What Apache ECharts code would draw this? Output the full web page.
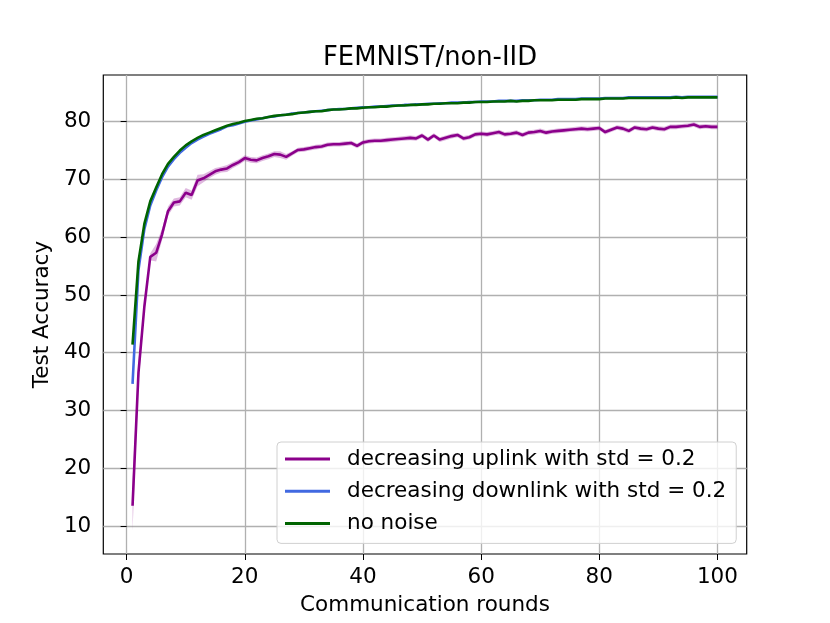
<!DOCTYPE html>
<html>
<head>
<meta charset="utf-8">
<script src="https://cdn.jsdelivr.net/npm/echarts@6/dist/echarts.min.js"></script>
<style>html,body{margin:0;padding:0;background:#fff}#c{width:830px;height:623px}</style>
</head>
<body>
<div id="c"></div>
<script>
const rounds = [1,2,3,4,5,6,7,8,9,10,11,12,13,14,15,16,17,18,19,20,21,22,23,24,25,26,27,28,29,30,31,32,33,34,35,36,37,38,39,40,41,42,43,44,45,46,47,48,49,50,51,52,53,54,55,56,57,58,59,60,61,62,63,64,65,66,67,68,69,70,71,72,73,74,75,76,77,78,79,80,81,82,83,84,85,86,87,88,89,90,91,92,93,94,95,96,97,98,99,100];
const xTicks = [0,20,40,60,80,100];
const yTicks = [10,20,30,40,50,60,70,80];
const seriesNames = ['decreasing uplink with std = 0.2','decreasing downlink with std = 0.2','no noise'];

const uplink = [13.5,36.5,48.0,56.6,57.3,60.5,64.5,66.0,66.2,67.7,67.3,69.8,70.2,70.8,71.4,71.7,71.9,72.5,73.0,73.7,
73.4,73.3,73.7,74.0,74.4,74.3,73.9,74.5,75.1,75.2,75.4,75.6,75.7,76.0,76.1,76.1,76.2,76.3,75.8,76.4,
76.6,76.7,76.7,76.8,76.9,77.0,77.1,77.2,77.1,77.6,76.9,77.6,76.9,77.2,77.5,77.7,77.1,77.3,77.8,77.9,
77.8,78.0,78.2,77.8,77.9,78.1,77.7,78.1,78.2,78.4,78.1,78.3,78.4,78.5,78.6,78.7,78.8,78.7,78.8,78.9,
78.2,78.6,79.0,78.8,78.4,79.0,78.8,78.7,79.0,78.8,78.7,79.1,79.1,79.2,79.3,79.5,79.1,79.2,79.1,79.1];
const uplinkSpread = [4.4,2.2,0.8,0.6,1.5,1.0,0.8,0.7,0.7,0.8,0.8,1.0,0.7,0.6,0.6,0.5,0.6,0.5,0.5,0.5,
0.5,0.5,0.5,0.5,0.5,0.6,0.5,0.4,0.4,0.4,0.4,0.4,0.4,0.4,0.4,0.4,0.4,0.4,0.4,0.4,
0.4,0.4,0.4,0.4,0.4,0.4,0.4,0.4,0.4,0.4,0.4,0.4,0.4,0.4,0.4,0.4,0.4,0.4,0.4,0.4,
0.4,0.4,0.4,0.4,0.4,0.4,0.4,0.4,0.4,0.4,0.4,0.4,0.4,0.4,0.4,0.4,0.4,0.4,0.4,0.4,
0.4,0.4,0.4,0.4,0.4,0.4,0.4,0.4,0.4,0.4,0.4,0.4,0.4,0.4,0.4,0.4,0.4,0.4,0.4,0.4];
const downlink = [34.6,54.3,61.4,65.5,68.1,70.4,72.2,73.5,74.6,75.5,76.3,76.9,77.4,77.9,78.3,78.7,79.2,79.4,79.7,80.0,
80.2,80.4,80.6,80.8,80.9,81.1,81.2,81.4,81.5,81.6,81.7,81.8,81.9,82.0,82.1,82.2,82.2,82.3,82.4,82.5,
82.5,82.6,82.6,82.7,82.8,82.8,82.9,82.9,83.0,83.0,83.1,83.1,83.2,83.2,83.3,83.3,83.3,83.4,83.4,83.5,
83.5,83.5,83.6,83.6,83.6,83.6,83.7,83.7,83.7,83.8,83.8,83.8,83.9,83.9,83.9,83.9,84.0,84.0,84.0,84.0,
84.1,84.1,84.1,84.1,84.2,84.2,84.2,84.2,84.2,84.2,84.2,84.2,84.3,84.2,84.3,84.3,84.3,84.3,84.3,84.3];
const noNoise = [41.4,55.8,62.3,66.2,68.6,70.9,72.7,73.9,75.0,75.9,76.6,77.2,77.7,78.1,78.5,78.9,79.3,79.6,79.8,80.1,
80.3,80.5,80.6,80.8,81.0,81.1,81.2,81.3,81.5,81.6,81.7,81.8,81.8,82.0,82.1,82.1,82.2,82.3,82.3,82.4,
82.5,82.5,82.6,82.6,82.7,82.8,82.8,82.9,82.9,83.0,83.0,83.1,83.1,83.2,83.2,83.2,83.3,83.3,83.4,83.4,
83.4,83.5,83.5,83.5,83.6,83.5,83.6,83.6,83.7,83.7,83.7,83.7,83.8,83.8,83.8,83.8,83.9,83.9,83.9,83.9,
84.0,84.0,84.0,84.0,84.1,84.1,84.1,84.1,84.1,84.1,84.1,84.1,84.2,84.1,84.2,84.2,84.2,84.2,84.2,84.2];

const FONT = 'DejaVu Sans';
const FS = 21.5;
const chart = echarts.init(document.getElementById('c'), null, {renderer: 'canvas'});
const pairs = arr => rounds.map((r, i) => [r, arr[i]]);

chart.setOption({
  animation: false,
  backgroundColor: '#fff',
  title: {
    text: 'FEMNIST/non-IID', left: 425, top: 40, textAlign: 'center',
    textStyle: {fontFamily: FONT, fontSize: 25.8, fontWeight: 'normal', color: '#000'}
  },
  grid: {left: 103.3, right: 83.3, top: 75, bottom: 69, show: true, borderColor: '#000', borderWidth: 1.2, backgroundColor: 'transparent'},
  legend: {
    data: seriesNames, orient: 'vertical', left: 277, top: 442,
    icon: 'rect', itemWidth: 45, itemHeight: 3, itemGap: 10.2,
    padding: [6, 10, 9, 8], borderColor: '#d0d0d0', borderWidth: 1, borderRadius: 4,
    backgroundColor: 'rgba(255,255,255,0.8)',
    textStyle: {fontFamily: FONT, fontSize: FS, color: '#000', lineHeight: FS, padding: [0, 0, 0, 12]}
  },
  xAxis: {
    type: 'value', min: -3.95, max: 104.95,
    name: 'Communication rounds', nameLocation: 'middle', nameGap: 40,
    nameTextStyle: {fontFamily: FONT, fontSize: FS, color: '#000'},
    axisLine: {show: false},
    axisTick: {show: true, customValues: xTicks, length: 6, lineStyle: {color: '#000', width: 1}},
    axisLabel: {customValues: xTicks, fontFamily: FONT, fontSize: FS, color: '#000', margin: 12},
    splitLine: {show: true, lineStyle: {color: '#b0b0b0', width: 1.3}}
  },
  yAxis: {
    type: 'value', min: 5.15, max: 88.08,
    name: 'Test Accuracy', nameLocation: 'middle', nameGap: 44,
    nameTextStyle: {fontFamily: FONT, fontSize: FS, color: '#000'},
    axisLine: {show: false},
    axisTick: {show: true, customValues: yTicks, length: 6, lineStyle: {color: '#000', width: 1}},
    axisLabel: {customValues: yTicks, fontFamily: FONT, fontSize: FS, color: '#000', margin: 12},
    splitLine: {show: true, lineStyle: {color: '#b0b0b0', width: 1.3}}
  },
  series: [
    {
      type: 'custom', name: 'uplink band', silent: true, z: 1,
      data: pairs(uplink),
      renderItem: function (params, api) {
        if (params.dataIndex !== 0) return null;
        const pts = [];
        for (let i = 0; i < rounds.length; i++) pts.push(api.coord([rounds[i], uplink[i] + uplinkSpread[i]]));
        for (let i = rounds.length - 1; i >= 0; i--) pts.push(api.coord([rounds[i], uplink[i] - uplinkSpread[i]]));
        return {type: 'polygon', shape: {points: pts}, style: {fill: 'rgba(139,0,139,0.28)'}};
      }
    },
    {type: 'line', name: seriesNames[0], data: pairs(uplink), symbol: 'none', color: '#8B008B', lineStyle: {width: 2.6, color: '#8B008B'}, z: 3},
    {type: 'line', name: seriesNames[1], data: pairs(downlink), symbol: 'none', color: '#4169E1', lineStyle: {width: 2.6, color: '#4169E1'}, z: 4},
    {type: 'line', name: seriesNames[2], data: pairs(noNoise), symbol: 'none', color: '#006400', lineStyle: {width: 2.6, color: '#006400'}, z: 5}
  ]
});
</script>
</body>
</html>
